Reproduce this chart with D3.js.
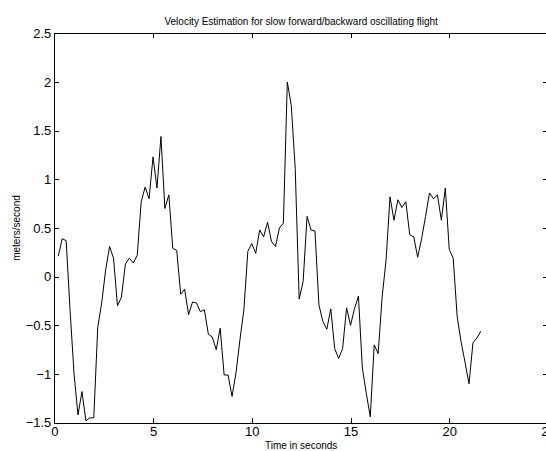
<!DOCTYPE html>
<html>
<head>
<meta charset="utf-8">
<script src="https://cdn.jsdelivr.net/npm/d3@7"></script>
<style>
  body { margin: 0; background: #fff; }
  svg { display: block; }
</style>
</head>
<body>
<div id="chart"></div>
<script>
// Sample times (s) and estimated velocity (m/s)
var timeSec = [
  0.2, 0.4, 0.6, 0.8, 1.0, 1.2, 1.4, 1.6, 1.8, 2.0,
  2.2, 2.4, 2.6, 2.8, 3.0, 3.2, 3.4, 3.6, 3.8, 4.0,
  4.2, 4.4, 4.6, 4.8, 5.0, 5.2, 5.4, 5.6, 5.8, 6.0,
  6.2, 6.4, 6.6, 6.8, 7.0, 7.2, 7.4, 7.6, 7.8, 8.0,
  8.2, 8.4, 8.6, 8.8, 9.0, 9.2, 9.4, 9.6, 9.8, 10.0,
  10.2, 10.4, 10.6, 10.8, 11.0, 11.2, 11.4, 11.6, 11.8, 12.0,
  12.2, 12.4, 12.6, 12.8, 13.0, 13.2, 13.4, 13.6, 13.8, 14.0,
  14.2, 14.4, 14.6, 14.8, 15.0, 15.2, 15.4, 15.6, 15.8, 16.0,
  16.2, 16.4, 16.6, 16.8, 17.0, 17.2, 17.4, 17.6, 17.8, 18.0,
  18.2, 18.4, 18.6, 18.8, 19.0, 19.2, 19.4, 19.6, 19.8, 20.0,
  20.2, 20.4, 20.6, 20.8, 21.0, 21.2, 21.4, 21.6
];
var velocity = [
  0.21, 0.39, 0.37, -0.35, -1.0, -1.42, -1.18, -1.48, -1.45, -1.45,
  -0.52, -0.27, 0.07, 0.31, 0.19, -0.30, -0.21, 0.13, 0.19, 0.14,
  0.22, 0.77, 0.92, 0.80, 1.23, 0.91, 1.44, 0.70, 0.84, 0.29,
  0.27, -0.18, -0.13, -0.39, -0.26, -0.27, -0.36, -0.34, -0.59, -0.62,
  -0.75, -0.53, -1.01, -1.01, -1.23, -0.99, -0.65, -0.34, 0.26, 0.34,
  0.24, 0.48, 0.41, 0.56, 0.36, 0.31, 0.50, 0.55, 2.00, 1.76,
  1.11, -0.23, -0.05, 0.62, 0.48, 0.47, -0.29, -0.46, -0.54, -0.33,
  -0.74, -0.84, -0.74, -0.32, -0.50, -0.33, -0.20, -0.94, -1.20, -1.44,
  -0.70, -0.79, -0.21, 0.17, 0.82, 0.58, 0.79, 0.71, 0.77, 0.43,
  0.41, 0.20, 0.39, 0.62, 0.86, 0.80, 0.84, 0.58, 0.91, 0.28,
  0.19, -0.41, -0.67, -0.88, -1.10, -0.68, -0.63, -0.56
];
var xTicks = [0, 5, 10, 15, 20, 25];
var yTicks = [-1.5, -1, -0.5, 0, 0.5, 1, 1.5, 2, 2.5];

var titleText = "Velocity Estimation for slow forward/backward oscillating flight";
var xLabelText = "Time in seconds";
var yLabelText = "meters/second";

// Chart size and plot box (box runs past the right edge, like the original)
var width = 546;
var height = 451;
var boxLeft = 54.3;
var boxRight = 548;
var boxTop = 33.3;
var boxBottom = 422.7;
var fontFamily = "'Liberation Sans', Arial, Helvetica, sans-serif";

var svg = d3.select("#chart").append("svg")
  .attr("width", width)
  .attr("height", height);

var xScale = d3.scaleLinear().domain([0, 25]).range([boxLeft, boxRight]);
var yScale = d3.scaleLinear().domain([-1.5, 2.5]).range([boxBottom, boxTop]);

function fmt(d) { return String(d).replace("-", "\u2212"); }

// Bottom axis with labels, ticks point inward
var xAxisG = svg.append("g")
  .attr("transform", "translate(0," + boxBottom + ")")
  .call(d3.axisBottom(xScale).tickValues(xTicks).tickFormat(fmt)
    .tickSizeInner(-5).tickSizeOuter(0).tickPadding(4));

// Left axis with labels
var yAxisG = svg.append("g")
  .attr("transform", "translate(" + boxLeft + ",0)")
  .call(d3.axisLeft(yScale).tickValues(yTicks).tickFormat(fmt)
    .tickSizeInner(-5).tickSizeOuter(0).tickPadding(3));

// Top and right: ticks only
var topG = svg.append("g")
  .attr("transform", "translate(0," + boxTop + ")")
  .call(d3.axisTop(xScale).tickValues(xTicks).tickFormat("")
    .tickSizeInner(-5).tickSizeOuter(0));
var rightG = svg.append("g")
  .attr("transform", "translate(" + boxRight + ",0)")
  .call(d3.axisRight(yScale).tickValues(yTicks).tickFormat("")
    .tickSizeInner(-5).tickSizeOuter(0));

[xAxisG, yAxisG, topG, rightG].forEach(function(g) {
  g.selectAll("path, line")
    .attr("stroke", "#000")
    .attr("stroke-width", 1)
    .attr("shape-rendering", "crispEdges");
  g.selectAll("text")
    .attr("fill", "#000")
    .style("font-family", fontFamily)
    .style("font-size", "13px");
});

// Data line
var line = d3.line()
  .x(function(d, i) { return xScale(timeSec[i]); })
  .y(function(d) { return yScale(d); });

svg.append("path")
  .datum(velocity)
  .attr("fill", "none")
  .attr("stroke", "#000")
  .attr("stroke-width", 1)
  .attr("d", line);

// Title and axis labels
svg.append("text")
  .attr("x", (boxLeft + boxRight) / 2)
  .attr("y", 25)
  .attr("text-anchor", "middle")
  .style("font-family", fontFamily)
  .style("font-size", "10px")
  .text(titleText);

svg.append("text")
  .attr("x", (boxLeft + boxRight) / 2)
  .attr("y", 449)
  .attr("text-anchor", "middle")
  .style("font-family", fontFamily)
  .style("font-size", "10px")
  .text(xLabelText);

svg.append("text")
  .attr("transform", "translate(20," + ((boxTop + boxBottom) / 2) + ") rotate(-90)")
  .attr("text-anchor", "middle")
  .style("font-family", fontFamily)
  .style("font-size", "10px")
  .text(yLabelText);
</script>
</body>
</html>
